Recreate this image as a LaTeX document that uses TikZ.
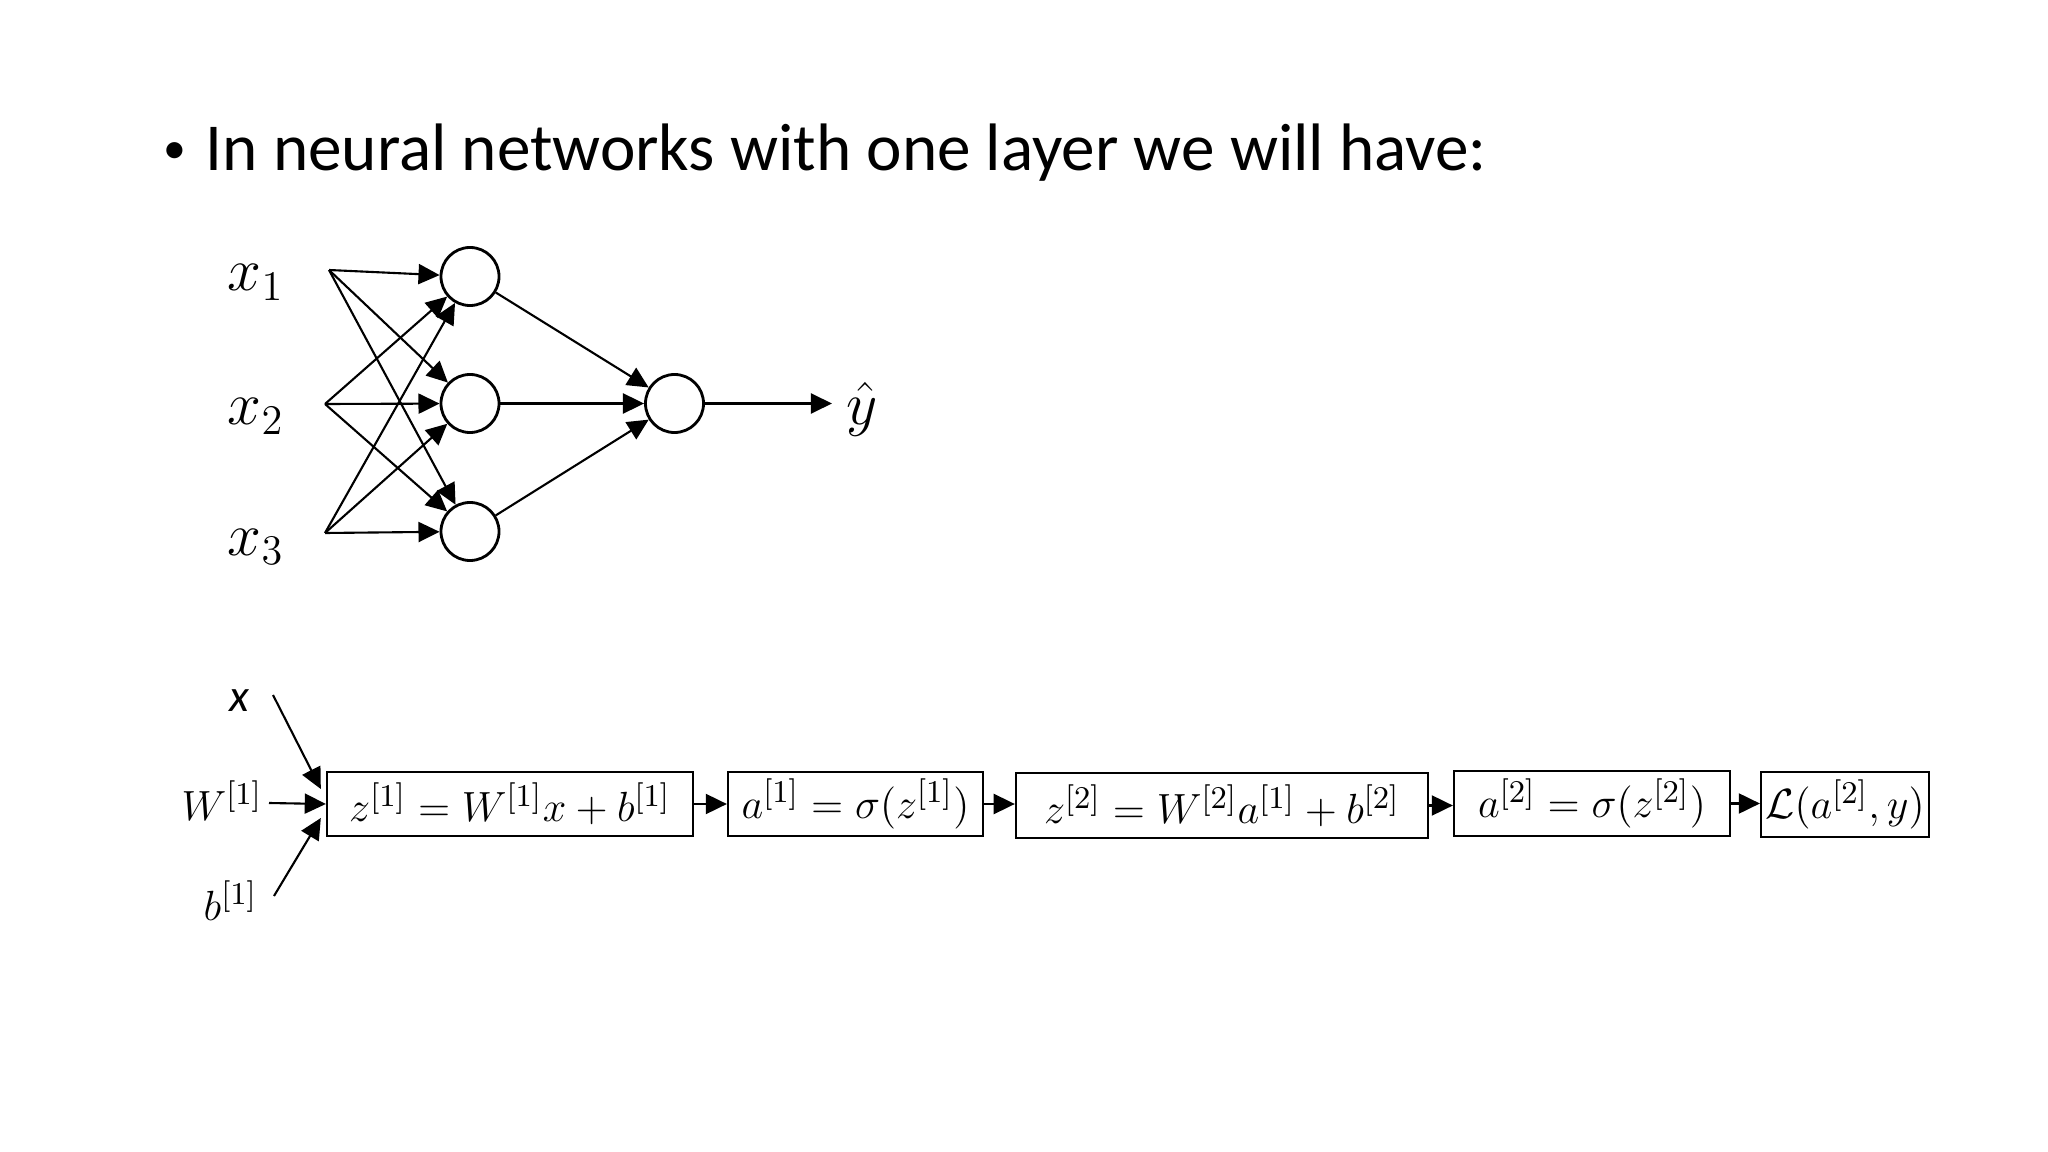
\documentclass[tikz,border=0pt]{standalone}
\usepackage{fontspec}
\setmainfont{Carlito}
\usetikzlibrary{arrows.meta,calc}
\begin{document}
\begin{tikzpicture}[x=0.01cm,y=-0.01cm,
  neuron/.style={circle,draw,line width=0.8pt,minimum size=0.58cm,inner sep=0pt},
  conn/.style={line width=0.6pt,-{Triangle[length=6pt,width=5.7pt]}},
  eqbox/.style={draw,line width=0.6pt,inner sep=0pt,font=\fontsize{12.5}{15}\selectfont},
  inlabel/.style={font=\fontsize{18}{22}\selectfont,anchor=base west,inner sep=0pt},
  botlabel/.style={font=\fontsize{13}{16}\selectfont,anchor=base west,inner sep=0pt},
  titletext/.style={font=\fontsize{19.1}{23}\selectfont,anchor=base west,inner sep=0pt}]
\useasboundingbox (0,0) rectangle (2048,1152);
% title
\node[font=\fontsize{13}{16}\selectfont,anchor=base,inner sep=0pt] (bullet) at (174.5,164) {•};
\node[titletext] (title) at (205,171) {In neural networks with one layer we will have:};
% network
\node[inlabel] (x1) at (227,291) {$x_1$};
\node[inlabel] (x2) at (227,425) {$x_2$};
\node[inlabel] (x3) at (227,555) {$x_3$};
\coordinate (i1) at (329,270);
\coordinate (i2) at (325,404);
\coordinate (i3) at (325,533);
\node[neuron] (h1) at (470,276.5) {};
\node[neuron] (h2) at (470,403.5) {};
\node[neuron] (h3) at (470,531.5) {};
\node[neuron] (o) at (674.5,403.5) {};
\node[inlabel] (yhat) at (846,425) {$\hat{y}$};
\foreach \i in {i1,i2,i3}{
  \foreach \h in {h1,h2,h3}{
    \draw[conn] (\i) -- (\h);
  }
}
\foreach \h in {h1,h2,h3}{
  \draw[conn] (\h) -- (o);
}
\draw[conn,shorten >=0.14cm] (o) -- (o -| yhat.west);
% computation graph
\node[botlabel] (xl) at (229,711) {\itshape x};
\node[botlabel] (wl) at (181,820) {$W^{[1]}$};
\node[botlabel] (bl) at (203,920) {$b^{[1]}$};
\coordinate (xs) at (273,695);
\coordinate (ws) at (269,803);
\coordinate (bs) at (274,896);
\node[eqbox,minimum width=3.66cm,minimum height=0.64cm] (b1) at (510,804) {$z^{[1]} = W^{[1]}x + b^{[1]}$};
\node[eqbox,minimum width=2.55cm,minimum height=0.64cm] (b2) at (855.5,804) {$a^{[1]} = \sigma(z^{[1]})$};
\node[eqbox,minimum width=4.12cm,minimum height=0.65cm] (b3) at (1222,805.5) {$z^{[2]} = W^{[2]}a^{[1]} + b^{[2]}$};
\node[eqbox,minimum width=2.76cm,minimum height=0.65cm] (b4) at (1592,803.5) {$a^{[2]} = \sigma(z^{[2]})$};
\node[eqbox,minimum width=1.68cm,minimum height=0.65cm] (b5) at (1845,804.5) {$\mathcal{L}(a^{[2]},y)$};
\draw[conn] (xs) -- ($(b1.west)+(-5,-15)$);
\draw[conn] (ws) -- (b1.west);
\draw[conn] (bs) -- ($(b1.west)+(-5,14)$);
\draw[conn] (b1.east) -- (b1.east -| b2.west);
\draw[conn] (b2.east) -- (b2.east -| b3.west);
\draw[conn] (b3.east) -- (b3.east -| b4.west);
\draw[conn] (b4.east) -- (b4.east -| b5.west);
\end{tikzpicture}
\end{document}
